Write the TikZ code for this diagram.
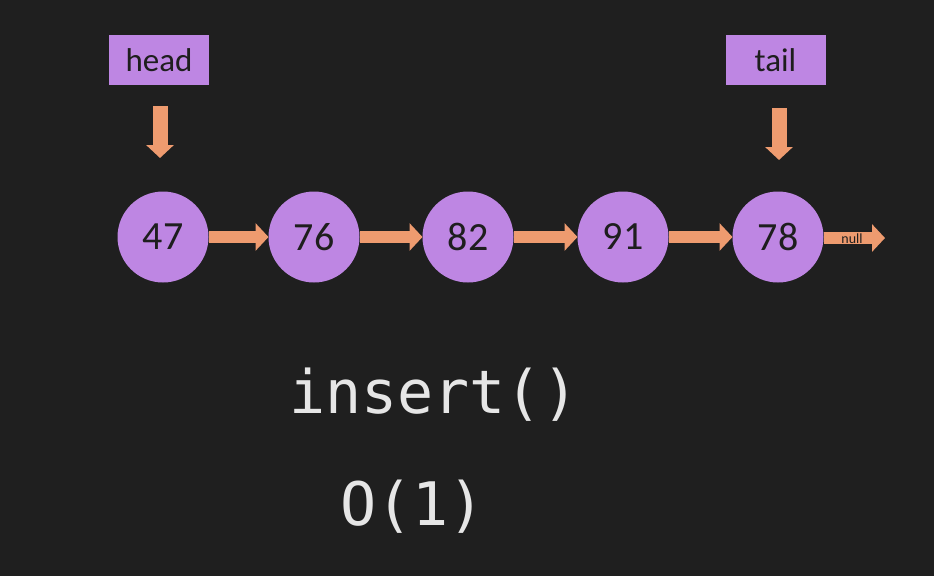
\documentclass[tikz,border=0pt]{standalone}
\usepackage{fontspec}
\setmainfont{Carlito}
\newfontfamily\codefont{DejaVu Sans Mono}
\usetikzlibrary{arrows.meta}
\definecolor{bg}{HTML}{1F1F1F}
\definecolor{lilac}{HTML}{BE86E3}
\definecolor{salmon}{HTML}{EE9B6F}
\definecolor{ink}{HTML}{1E1E1E}
\definecolor{codegray}{HTML}{E6E6E6}
\tikzset{
  listnode/.style={circle, fill=lilac, minimum size=91pt, inner sep=0pt, outer sep=0pt,
    text=ink, font=\fontsize{40}{42}\selectfont},
  ptrbox/.style={rectangle, fill=lilac, minimum width=100pt, minimum height=50pt, inner sep=0pt,
    text=ink, font=\fontsize{33}{35}\selectfont},
  linkarrow/.style={draw=salmon, line width=12pt, -{Triangle[width=27pt,length=13pt]}, color=salmon},
  ptrarrow/.style={draw=salmon, line width=15pt, -{Triangle[width=27pt,length=13pt]}, color=salmon},
  codetext/.style={text=codegray, font=\codefont\fontsize{60}{62}\selectfont, inner sep=0pt}
}
\begin{document}
\begin{tikzpicture}[x=1pt,y=-1pt]
  \fill[bg] (0,0) rectangle (934,576);
  \useasboundingbox (0,0) rectangle (934,576);
  % pointer boxes
  \node[ptrbox] (head) at (159,60) {head};
  \node[ptrbox] (tail) at (775.5,60) {tail};
  % list nodes
  \node[listnode] (n1) at (163,237) {47};
  \node[listnode] (n2) at (314,237) {76};
  \node[listnode] (n3) at (468,237) {82};
  \node[listnode] (n4) at (623,237) {91};
  \node[listnode] (n5) at (778,237) {78};
  % pointer arrows
  \coordinate (hs) at (160,106);
  \coordinate (he) at (160,158);
  \coordinate (ts) at (779,108);
  \coordinate (te) at (779,160);
  \draw[ptrarrow] (hs) -- (he);
  \draw[ptrarrow] (ts) -- (te);
  % links
  \draw[linkarrow] (n1) -- (n2);
  \draw[linkarrow] (n2) -- (n3);
  \draw[linkarrow] (n3) -- (n4);
  \draw[linkarrow] (n4) -- (n5);
  \coordinate (nullend) at (885,238);
  \draw[linkarrow] (n5.east |- nullend) -- (nullend);
  \node[text=ink, font=\fontsize{14}{15}\selectfont, inner sep=0pt] (nulllbl) at (852,239) {null};
  % code text
  \node[codetext, anchor=base west] (ins) at (289,413) {insert()};
  \node[codetext, anchor=base west] (big) at (340,525) {O(1)};
\end{tikzpicture}
\end{document}
